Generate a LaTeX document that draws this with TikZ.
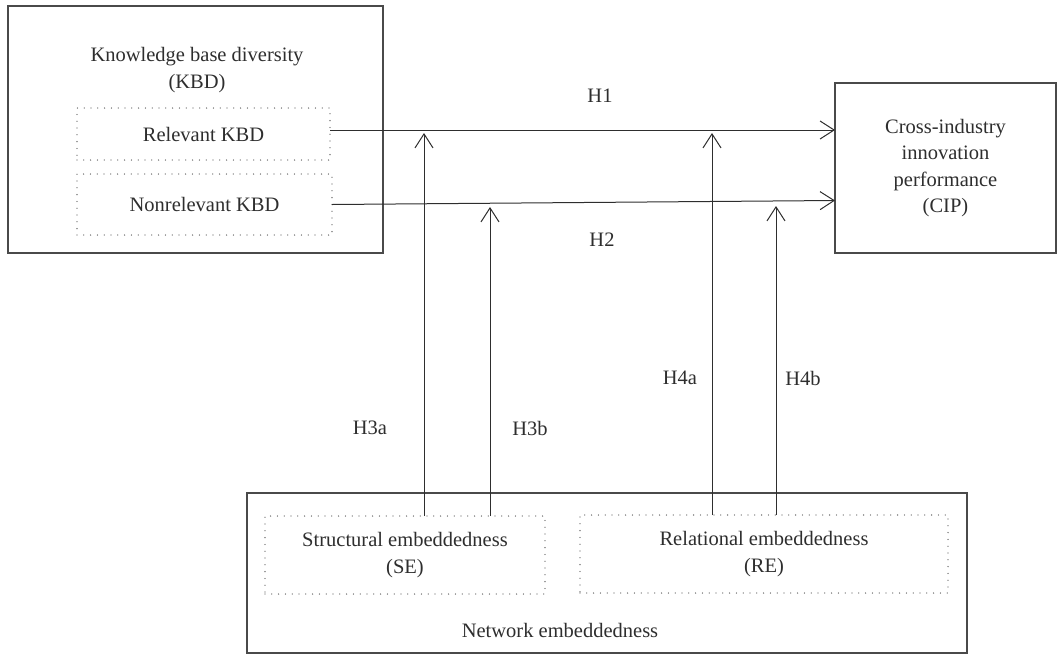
\documentclass[tikz,border=0pt]{standalone}
\usepackage{fontspec}
\setmainfont{Liberation Serif}
\usetikzlibrary{arrows.meta,calc}
\definecolor{ink}{HTML}{2E2E2E}
\definecolor{frame}{HTML}{4A4A4A}
\definecolor{dotc}{HTML}{555555}
\tikzset{
  solidbox/.style={draw=frame, line width=1.4pt, inner sep=0pt, outer sep=0pt},
  dotbox/.style={draw=dotc, line width=1.3pt, dash pattern=on 0pt off 6.8pt, line cap=round, inner sep=0pt, outer sep=0pt},
  lbl/.style={text=ink, font=\fontsize{20.5}{26.5}\selectfont, align=center, inner sep=0pt},
  arr/.style={draw=ink, line width=1pt, -{Straight Barb[length=14pt,width=18pt,line width=1pt]}},
}
\begin{document}
\begin{tikzpicture}[x=1pt,y=-1pt]
\useasboundingbox (0,0) rectangle (1058,654);
% outer boxes
\node[solidbox, minimum width=375pt, minimum height=247pt] (kbd) at (195.5,129.5) {};
\node[solidbox, minimum width=221pt, minimum height=170pt] (cip) at (945.5,168) {};
\node[solidbox, minimum width=720pt, minimum height=160pt] (ne) at (607,573) {};
% dotted boxes
\node[dotbox, minimum width=253pt, minimum height=52pt] (rel) at (203.5,134) {};
\node[dotbox, minimum width=255pt, minimum height=61pt] (nrel) at (204.5,204.5) {};
\node[dotbox, minimum width=280pt, minimum height=78pt] (se) at (405,555) {};
\node[dotbox, minimum width=368pt, minimum height=78pt] (re) at (764,554) {};
% texts
\node[lbl] (kbdt) at (197,70) {Knowledge base diversity\\(KBD)};
\node[lbl] (relt) at (rel) {Relevant KBD};
\node[lbl] (nrelt) at (nrel) {Nonrelevant KBD};
\node[lbl] (cipt) at (cip) {Cross-industry\\innovation\\performance\\(CIP)};
\node[lbl] (set) at (se) {Structural embeddedness\\(SE)};
\node[lbl] (ret) at (re) {Relational embeddedness\\(RE)};
\node[lbl] (net) at (560,630) {Network embeddedness};
% hypothesis labels
\node[lbl] (h1) at (600,96) {H1};
\node[lbl] (h2) at (602,240) {H2};
\node[lbl] (h3a) at (370,428) {H3a};
\node[lbl] (h3b) at (530,428) {H3b};
\node[lbl] (h4a) at (680,378) {H4a};
\node[lbl] (h4b) at (803,378) {H4b};
% main arrows
\coordinate (h1s) at ([yshift=4pt]rel.east);
\coordinate (h1e) at (h1s -| cip.west);
\draw[arr] (h1s) -- (h1e);
\coordinate (h2s) at (nrel.east);
\coordinate (h2e) at ([yshift=4pt]nrel.east -| cip.west);
\draw[arr] (h2s) -- (h2e);
% moderating arrows
\coordinate (t3a) at (424,133);
\coordinate (t3b) at (490,207);
\coordinate (t4a) at (712,133);
\coordinate (t4b) at (776,206);
\draw[arr] (t3a |- se.north) -- (t3a);
\draw[arr] (t3b |- se.north) -- (t3b);
\draw[arr] (t4a |- re.north) -- (t4a);
\draw[arr] (t4b |- re.north) -- (t4b);
\end{tikzpicture}
\end{document}
